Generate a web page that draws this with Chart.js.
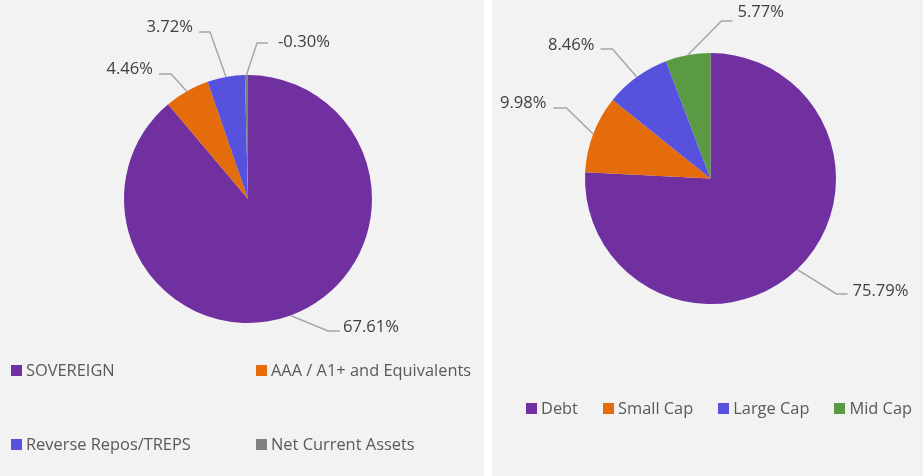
<!DOCTYPE html>
<html>
<head>
<meta charset="utf-8">
<script src="https://cdn.jsdelivr.net/npm/chart.js@4"></script>
<style>
  body { margin: 0; background: #ffffff; width: 923px; height: 476px; overflow: hidden; font-family: "Open Sans", sans-serif; }
  .panel { position: absolute; top: 0; height: 476px; background: #f2f2f2; }
  #leftPanel { left: 0; width: 484px; }
  #rightPanel { left: 492px; width: 431px; }
  canvas { position: absolute; left: 0; top: 0; }
  .legend-item { position: absolute; display: flex; align-items: center; font-size: 16.4px; color: #595959; white-space: nowrap; line-height: 20px; }
  .legend-item span.box { display: inline-block; width: 11px; height: 11px; margin-right: 4px; }
  #rightLegend { position: absolute; left: 34px; top: 398px; display: flex; gap: 25px; }
  #rightLegend .legend-item { position: static; }
</style>
</head>
<body>
<div class="panel" id="leftPanel">
  <canvas id="leftChart" width="484" height="476"></canvas>
</div>
<div class="panel" id="rightPanel">
  <canvas id="rightChart" width="431" height="476"></canvas>
  <div id="rightLegend"></div>
</div>
<script>
// portfolio by rating
var leftLabels = ['SOVEREIGN', 'AAA / A1+ and Equivalents', 'Reverse Repos/TREPS', 'Net Current Assets'];
var leftValues = [67.61, 4.46, 3.72, -0.30];
var leftColors = ['#7030A0', '#E46C0A', '#5652DE', '#808080'];

// asset allocation
var rightLabels = ['Debt', 'Small Cap', 'Large Cap', 'Mid Cap'];
var rightValues = [75.79, 9.98, 8.46, 5.77];
var rightColors = ['#7030A0', '#E46C0A', '#5652DE', '#5B9A45'];

// label placement, relative to pie centre: elbow, end of arm, text anchor, text align
var leftLabelLayout = [
    { elbow: [80, 132], arm: [92, 132], text: [95, 133], align: 'left' },
    { elbow: [-77, -125], arm: [-89, -125], text: [-95, -125], align: 'right' },
    { elbow: [-38, -167], arm: [-49, -167], text: [-55, -167], align: 'right' },
    { elbow: [9, -156], arm: [20, -156], text: [30, -152], align: 'left' }
];
var rightLabelLayout = [
    { elbow: [126, 115.5], arm: [137, 115.5], text: [142, 117.5], align: 'left' },
    { elbow: [-144, -70.5], arm: [-157, -70.5], text: [-164, -70.5], align: 'right' },
    { elbow: [-98, -129.5], arm: [-110, -129.5], text: [-116, -128.5], align: 'right' },
    { elbow: [11, -157.5], arm: [22, -157.5], text: [27, -161.5], align: 'left' }
];

var leaderLabels = {
    id: 'leaderLabels',
    afterDatasetsDraw: function (chart, args, opts) {
        var ctx = chart.ctx;
        var meta = chart.getDatasetMeta(0);
        var values = chart.data.datasets[0].data;
        ctx.save();
        meta.data.forEach(function (arc, i) {
            var p = arc.getProps(['x', 'y', 'startAngle', 'endAngle', 'outerRadius'], true);
            var mid = (p.startAngle + p.endAngle) / 2;
            var sx = p.x + Math.cos(mid) * p.outerRadius;
            var sy = p.y + Math.sin(mid) * p.outerRadius;
            var lay = opts.layout[i];
            ctx.beginPath();
            ctx.strokeStyle = '#a6a6a6';
            ctx.lineWidth = 1.5;
            ctx.moveTo(sx, sy);
            ctx.lineTo(p.x + lay.elbow[0], p.y + lay.elbow[1]);
            ctx.lineTo(p.x + lay.arm[0], p.y + lay.arm[1]);
            ctx.stroke();
            ctx.fillStyle = '#404040';
            ctx.font = '16.6px "Open Sans"';
            ctx.textAlign = lay.align;
            ctx.textBaseline = 'alphabetic';
            ctx.fillText(values[i].toFixed(2) + '%', p.x + lay.text[0], p.y + lay.text[1]);
        });
        ctx.restore();
    }
};

function makePie(id, labels, values, colors, padding, layout) {
    var ctx = document.getElementById(id).getContext('2d');
    return new Chart(ctx, {
        type: 'pie',
        data: {
            labels: labels,
            datasets: [{
                data: values,
                backgroundColor: colors,
                borderWidth: 0
            }]
        },
        options: {
            responsive: false,
            animation: false,
            devicePixelRatio: 1,
            layout: { padding: padding },
            plugins: {
                legend: { display: false },
                tooltip: { enabled: false },
                leaderLabels: { layout: layout }
            }
        },
        plugins: [leaderLabels]
    });
}

function legendItem(label, color) {
    var div = document.createElement('div');
    div.className = 'legend-item';
    var box = document.createElement('span');
    box.className = 'box';
    box.style.background = color;
    div.appendChild(box);
    div.appendChild(document.createTextNode(label));
    return div;
}

document.fonts.load('16px "Open Sans"').then(function () {
    makePie('leftChart', leftLabels, leftValues, leftColors,
        { left: 124, right: 112, top: 75, bottom: 153 }, leftLabelLayout);
    makePie('rightChart', rightLabels, rightValues, rightColors,
        { left: 93, right: 87, top: 53, bottom: 172 }, rightLabelLayout);
});

// left legend: two columns, two rows
var leftPanel = document.getElementById('leftPanel');
var cols = [11, 256];
var rows = [360, 434];
leftLabels.forEach(function (label, i) {
    var item = legendItem(label, leftColors[i]);
    item.style.left = cols[i % 2] + 'px';
    item.style.top = rows[Math.floor(i / 2)] + 'px';
    leftPanel.appendChild(item);
});

var rightLegend = document.getElementById('rightLegend');
rightLabels.forEach(function (label, i) {
    rightLegend.appendChild(legendItem(label, rightColors[i]));
});
</script>
</body>
</html>
